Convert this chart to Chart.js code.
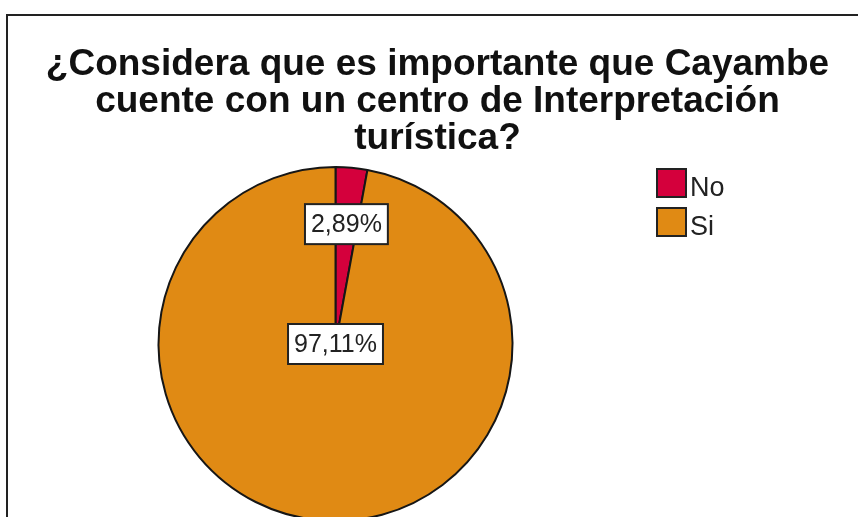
<!DOCTYPE html>
<html lang="es">
<head>
<meta charset="UTF-8">
<title>Centro de Interpretación turística</title>
<script src="https://cdn.jsdelivr.net/npm/chart.js"></script>
<style>
    html, body { margin: 0; padding: 0; background: #fff; }
    .janela { position: relative; width: 858px; height: 517px; overflow: hidden; }
    .marco { position: absolute; left: 6px; top: 14px; width: 900px; height: 600px;
             border-top: 2px solid #222; border-left: 2px solid #222; }
    #grafico { position: absolute; left: 0; top: 0; }
</style>
</head>
<body>
<div class="janela">
    <div class="marco"></div>
    <canvas id="grafico" width="858" height="540"></canvas>
</div>

<script>
    // datos
    const categorias = ['No', 'Si'];
    const porcentajes = [2.89, 97.11];
    const colores = ['#d4003c', '#e08a14'];
    const titulo = ['¿Considera que es importante que Cayambe', 'cuente con un centro de Interpretación', 'turística?'];

    // distancia de cada etiqueta al centro (fraccion del radio)
    const posEtiqueta = [0.68, 0];

    function formatoPct(v) {
        return v.toFixed(2).replace('.', ',') + '%';
    }

    const textos = {
        id: 'textos',
        afterDraw(chart) {
            const ctx = chart.ctx;
            ctx.save();

            // titulo
            ctx.fillStyle = '#111';
            ctx.font = 'bold 37px "Liberation Sans", Arial, sans-serif';
            ctx.textAlign = 'center';
            ctx.textBaseline = 'alphabetic';
            titulo.forEach(function (linea, i) {
                ctx.fillText(linea, 437.5, 75 + i * 37);
            });

            // leyenda
            ctx.textAlign = 'left';
            ctx.font = '27px "Liberation Sans", Arial, sans-serif';
            categorias.forEach(function (cat, i) {
                const y = 169 + i * 39;
                ctx.fillStyle = colores[i];
                ctx.fillRect(657, y, 29, 28);
                ctx.strokeStyle = '#222';
                ctx.lineWidth = 2;
                ctx.strokeRect(657, y, 29, 28);
                ctx.fillStyle = '#222';
                ctx.fillText(cat, 690, y + 27);
            });

            // etiquetas de porcentaje
            const meta = chart.getDatasetMeta(0);
            ctx.font = '25px "Liberation Sans", Arial, sans-serif';
            ctx.textAlign = 'center';
            ctx.textBaseline = 'middle';
            meta.data.forEach(function (arc, i) {
                const p = arc.getProps(['x', 'y', 'startAngle', 'endAngle', 'outerRadius'], true);
                const medio = (p.startAngle + p.endAngle) / 2;
                const r = p.outerRadius * posEtiqueta[i];
                const x = p.x + Math.cos(medio) * r;
                const y = p.y + Math.sin(medio) * r;
                const txt = formatoPct(porcentajes[i]);
                const w = ctx.measureText(txt).width + 12;
                const h = 40;
                ctx.fillStyle = '#fff';
                ctx.fillRect(x - w / 2, y - h / 2, w, h);
                ctx.strokeStyle = '#222';
                ctx.lineWidth = 2;
                ctx.strokeRect(x - w / 2, y - h / 2, w, h);
                ctx.fillStyle = '#222';
                ctx.fillText(txt, x, y + 1);
            });

            ctx.restore();
        }
    };

    const dados = {
        labels: categorias,
        datasets: [{
            data: porcentajes,
            backgroundColor: colores,
            borderColor: '#161616',
            borderWidth: 2,
            hoverOffset: 0
        }]
    };

    const config = {
        type: 'pie',
        data: dados,
        options: {
            responsive: false,
            animation: false,
            events: [],
            radius: 177,
            layout: { padding: { left: 0, right: 187, top: 148, bottom: 0 } },
            plugins: {
                legend: { display: false },
                title: { display: false },
                tooltip: { enabled: false }
            }
        },
        plugins: [textos]
    };

    let myChart = new Chart(document.getElementById('grafico'), config);
</script>
</body>
</html>
